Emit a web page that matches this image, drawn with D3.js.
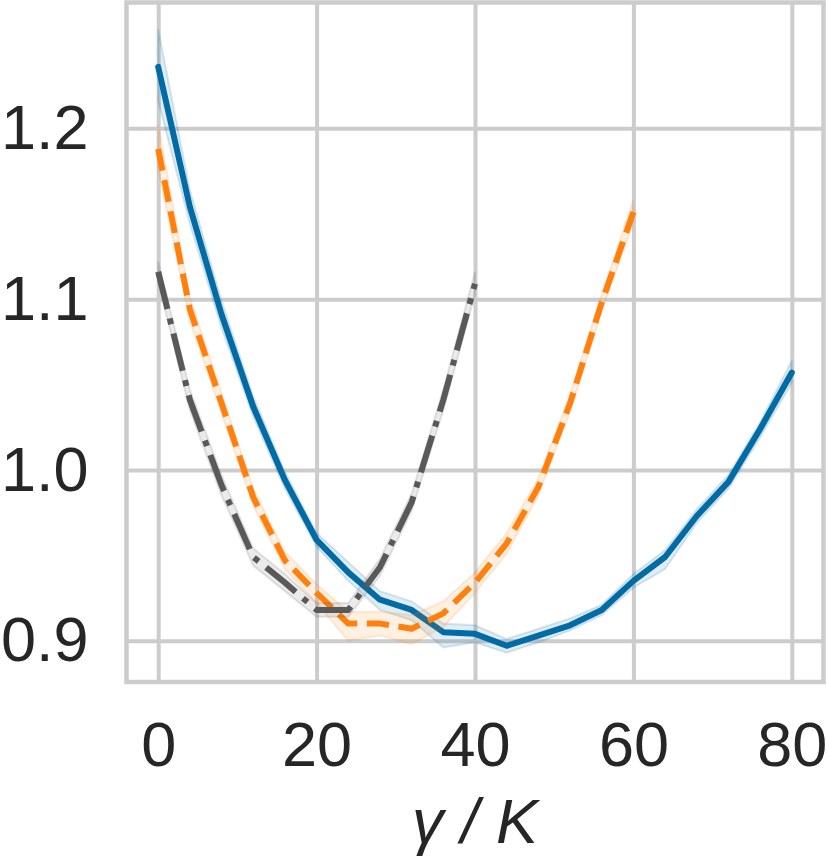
<!DOCTYPE html>
<html>
<head>
<meta charset="utf-8">
<script src="https://cdn.jsdelivr.net/npm/d3@7"></script>
<style>
body { margin: 0; background: #fff; }
</style>
</head>
<body>
<div id="chart"></div>
<script>
const FRAME_WIDTH = 827;
const FRAME_HEIGHT = 863;
const PLOT = {left: 126.5, right: 823.5, top: 2.5, bottom: 682};

const X_TICKS = [0, 20, 40, 60, 80];
const Y_TICKS = [0.9, 1.0, 1.1, 1.2];

// blue solid series
const BLUE_X = [0, 4, 8, 12, 16, 20, 24, 28, 32, 36, 40, 44, 48, 52, 56, 60, 64, 68, 72, 76, 80];
const BLUE_MEAN = [1.236, 1.154, 1.091, 1.037, 0.994, 0.959, 0.940, 0.924, 0.918, 0.905, 0.904, 0.897, 0.903, 0.909, 0.918, 0.935, 0.949, 0.973, 0.993, 1.024, 1.057];
const BLUE_LO = [1.216, 1.144, 1.083, 1.031, 0.989, 0.955, 0.935, 0.918, 0.912, 0.896, 0.899, 0.893, 0.899, 0.906, 0.915, 0.931, 0.942, 0.969, 0.989, 1.019, 1.051];
const BLUE_HI = [1.258, 1.164, 1.099, 1.043, 0.999, 0.963, 0.946, 0.929, 0.923, 0.910, 0.909, 0.901, 0.907, 0.913, 0.921, 0.939, 0.953, 0.977, 0.997, 1.028, 1.064];

// orange dashed series
const ORANGE_X = [0, 4, 8, 12, 16, 20, 24, 28, 32, 36, 40, 44, 48, 52, 56, 60];
const ORANGE_MEAN = [1.188, 1.094, 1.039, 0.984, 0.947, 0.928, 0.910, 0.910, 0.907, 0.916, 0.934, 0.957, 0.990, 1.039, 1.098, 1.151];
const ORANGE_LO = [1.176, 1.087, 1.033, 0.979, 0.942, 0.922, 0.900, 0.903, 0.898, 0.908, 0.928, 0.951, 0.985, 1.034, 1.093, 1.145];
const ORANGE_HI = [1.202, 1.101, 1.045, 0.989, 0.952, 0.933, 0.917, 0.917, 0.915, 0.923, 0.940, 0.963, 0.995, 1.044, 1.103, 1.158];

// gray dash-dot series
const GRAY_X = [0, 4, 8, 12, 16, 20, 24, 28, 32, 36, 40];
const GRAY_MEAN = [1.116, 1.041, 0.991, 0.949, 0.934, 0.918, 0.918, 0.943, 0.981, 1.041, 1.109];
const GRAY_LO = [1.110, 1.035, 0.985, 0.944, 0.929, 0.914, 0.914, 0.938, 0.976, 1.035, 1.103];
const GRAY_HI = [1.122, 1.047, 0.997, 0.954, 0.939, 0.922, 0.922, 0.948, 0.986, 1.047, 1.116];

const LW = 6;
const SERIES = [
  {x: BLUE_X, mean: BLUE_MEAN, lo: BLUE_LO, hi: BLUE_HI, color: "#006BA4", dash: null},
  {x: ORANGE_X, mean: ORANGE_MEAN, lo: ORANGE_LO, hi: ORANGE_HI, color: "#FF800E", dash: [3.7 * LW, 1.6 * LW]},
  {x: GRAY_X, mean: GRAY_MEAN, lo: GRAY_LO, hi: GRAY_HI, color: "#595959", dash: [6.4 * LW, 1.6 * LW, 1 * LW, 1.6 * LW]}
];

const X_SCALE = d3.scaleLinear().domain([-4, 84]).range([PLOT.left, PLOT.right]);
const Y_SCALE = d3.scaleLinear().domain([0.8758, 1.2737]).range([PLOT.bottom, PLOT.top]);

const svg = d3.select("#chart")
  .append("svg")
    .attr("width", FRAME_WIDTH)
    .attr("height", FRAME_HEIGHT)
    .style("font-family", "'Liberation Sans', Arial, sans-serif");

svg.append("rect").attr("width", FRAME_WIDTH).attr("height", FRAME_HEIGHT).attr("fill", "#fff");

// y grid + labels
const yAxis = svg.append("g")
  .attr("transform", "translate(" + PLOT.left + ",0)")
  .call(d3.axisLeft(Y_SCALE).tickValues(Y_TICKS).tickFormat(d3.format(".1f"))
        .tickSize(-(PLOT.right - PLOT.left)).tickPadding(38));

// x grid + labels
const xAxis = svg.append("g")
  .attr("transform", "translate(0," + PLOT.bottom + ")")
  .call(d3.axisBottom(X_SCALE).tickValues(X_TICKS).tickFormat(d3.format("d"))
        .tickSize(-(PLOT.bottom - PLOT.top)).tickPadding(39));

[yAxis, xAxis].forEach((g) => {
  g.select(".domain").remove();
  g.selectAll(".tick line").attr("stroke", "#cccccc").attr("stroke-width", 4);
  g.selectAll(".tick text").attr("fill", "#262626").attr("font-size", 63)
    .attr("font-family", "'Liberation Sans', Arial, sans-serif");
});

// bands and lines
SERIES.forEach((s) => {
  const pts = s.x.map((v, i) => ({x: v, m: s.mean[i], lo: s.lo[i], hi: s.hi[i]}));

  svg.append("path")
    .datum(pts)
    .attr("d", d3.area().x((d) => X_SCALE(d.x)).y0((d) => Y_SCALE(d.lo)).y1((d) => Y_SCALE(d.hi)))
    .attr("fill", s.color)
    .attr("fill-opacity", 0.12)
    .attr("stroke", s.color)
    .attr("stroke-opacity", 0.15)
    .attr("stroke-width", 2);

  svg.append("path")
    .datum(pts)
    .attr("d", d3.line().x((d) => X_SCALE(d.x)).y((d) => Y_SCALE(d.m)))
    .attr("fill", "none")
    .attr("stroke", s.color)
    .attr("stroke-width", LW)
    .attr("stroke-linejoin", "round")
    .attr("stroke-linecap", s.dash ? "butt" : "round")
    .attr("stroke-dasharray", s.dash ? s.dash.join(",") : null);
});

// frame
svg.append("rect")
  .attr("x", PLOT.left)
  .attr("y", PLOT.top)
  .attr("width", PLOT.right - PLOT.left)
  .attr("height", PLOT.bottom - PLOT.top)
  .attr("fill", "none")
  .attr("stroke", "#cccccc")
  .attr("stroke-width", 4.5);

// x label
svg.append("text")
  .attr("x", 475)
  .attr("y", 843)
  .attr("text-anchor", "middle")
  .attr("font-size", 63)
  .attr("font-style", "italic")
  .attr("fill", "#262626")
  .text("γ / K");
</script>
</body>
</html>
